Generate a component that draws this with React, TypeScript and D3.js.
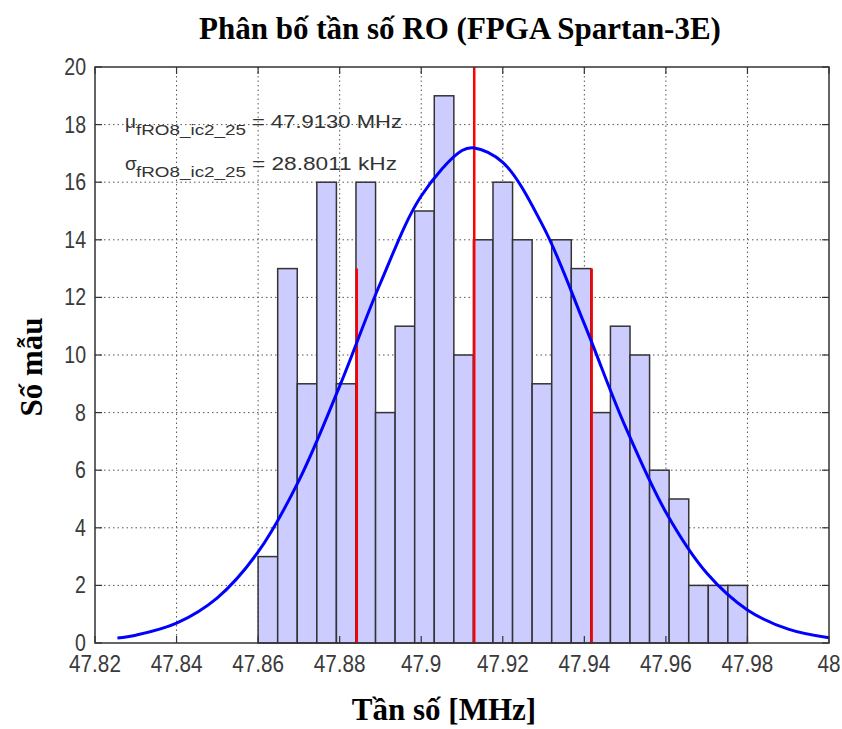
import React from "react";
import * as d3 from "d3";

// ---- data ----
const binStart = 47.86;
const binWidth = 0.0048;
const counts = [3, 13, 9, 16, 9, 16, 8, 11, 15, 19, 10, 14, 16, 14, 9, 14, 13, 8, 11, 10, 6, 5, 2, 2, 2];

const fitX = [47.8255, 47.83, 47.84, 47.85, 47.86, 47.87, 47.88, 47.89, 47.9, 47.91, 47.913, 47.92, 47.93, 47.94, 47.95, 47.96, 47.97, 47.98, 47.99, 48.0];
const fitY = [0.17, 0.27, 0.69, 1.57, 3.16, 5.64, 8.92, 12.5, 15.52, 17.1, 17.19, 16.69, 14.44, 11.08, 7.53, 4.54, 2.43, 1.15, 0.48, 0.18];

const mu = 47.913;
const sigmaMHz = 0.0288011;
const sigmaLineHeight = 13;

const xTicks = [47.82, 47.84, 47.86, 47.88, 47.9, 47.92, 47.94, 47.96, 47.98, 48];
const xTickLabels = ["47.82", "47.84", "47.86", "47.88", "47.9", "47.92", "47.94", "47.96", "47.98", "48"];
const yTicks = [0, 2, 4, 6, 8, 10, 12, 14, 16, 18, 20];

const title = "Phân bố tần số RO (FPGA Spartan-3E)";
const xLabel = "Tần số [MHz]";
const yLabel = "Số mẫu";
const muText = "= 47.9130 MHz";
const sigmaText = "= 28.8011 kHz";
const subText = "fRO8_ic2_25";

export default function App() {
  const W = 842, H = 729;
  const L = 95, R = 829, T = 67, B = 643;
  const x = d3.scaleLinear().domain([47.82, 48]).range([L, R]);
  const y = d3.scaleLinear().domain([0, 20]).range([B, T]);
  const line = d3
    .line<number>()
    .x((_, i) => x(fitX[i]))
    .y((d) => y(d))
    .curve(d3.curveCatmullRom);
  const sans = "'Liberation Sans', Arial, sans-serif";
  const serif = "'Liberation Serif', 'Times New Roman', serif";
  const tickColor = "#3a3a3a";
  return (
    <svg width={W} height={H} style={{ position: "absolute", left: 0, top: 0, background: "#fff" }}>
      <rect x={0} y={0} width={W} height={H} fill="#fff" />
      {/* grid */}
      {xTicks.slice(1, -1).map((t) => (
        <line key={"gx" + t} x1={x(t)} x2={x(t)} y1={T} y2={B} stroke="#555" strokeWidth={1} strokeDasharray="1.5,3" />
      ))}
      {yTicks.slice(1, -1).map((t) => (
        <line key={"gy" + t} x1={L} x2={R} y1={y(t)} y2={y(t)} stroke="#555" strokeWidth={1} strokeDasharray="1.5,3" />
      ))}
      {/* bars */}
      {counts.map((c, i) => {
        const x0 = x(binStart + i * binWidth);
        const x1 = x(binStart + (i + 1) * binWidth);
        return (
          <rect key={"b" + i} x={x0} y={y(c)} width={x1 - x0} height={y(0) - y(c)} fill="#ccccff" stroke="#333" strokeWidth={1.5} />
        );
      })}
      {/* red lines */}
      <line x1={x(mu)} x2={x(mu)} y1={y(0)} y2={y(20)} stroke="#ff0000" strokeWidth={2.5} />
      <line x1={x(mu - sigmaMHz)} x2={x(mu - sigmaMHz)} y1={y(0)} y2={y(sigmaLineHeight)} stroke="#ff0000" strokeWidth={2.5} />
      <line x1={x(mu + sigmaMHz)} x2={x(mu + sigmaMHz)} y1={y(0)} y2={y(sigmaLineHeight)} stroke="#ff0000" strokeWidth={2.5} />
      {/* fit curve */}
      <path d={line(fitY) || ""} fill="none" stroke="#0000ff" strokeWidth={3} />
      {/* frame */}
      <rect x={L} y={T} width={R - L} height={B - T} fill="none" stroke="#333" strokeWidth={1.5} />
      {/* ticks */}
      {xTicks.map((t) => (
        <g key={"tx" + t}>
          <line x1={x(t)} x2={x(t)} y1={B} y2={B - 7} stroke="#333" strokeWidth={1.2} />
          <line x1={x(t)} x2={x(t)} y1={T} y2={T + 7} stroke="#333" strokeWidth={1.2} />
        </g>
      ))}
      {yTicks.map((t) => (
        <g key={"ty" + t}>
          <line x1={L} x2={L + 7} y1={y(t)} y2={y(t)} stroke="#333" strokeWidth={1.2} />
          <line x1={R} x2={R - 7} y1={y(t)} y2={y(t)} stroke="#333" strokeWidth={1.2} />
        </g>
      ))}
      {/* tick labels */}
      {xTicks.map((t, i) => (
        <text key={"lx" + t} transform={`translate(${x(t)},${B + 29}) scale(0.9,1)`} textAnchor="middle" fontFamily={sans} fontSize={23} fill={tickColor}>
          {xTickLabels[i]}
        </text>
      ))}
      {yTicks.map((t) => (
        <text key={"ly" + t} transform={`translate(${L - 9},${y(t) + 8}) scale(0.85,1)`} textAnchor="end" fontFamily={sans} fontSize={23} fill={tickColor}>
          {t}
        </text>
      ))}
      {/* annotations */}
      <text x={125} y={128} fontFamily={sans} fontSize={19} fill="#333">μ</text>
      <text x={136} y={135} fontFamily={sans} fontSize={15} fill="#333" textLength={110} lengthAdjust="spacingAndGlyphs">{subText}</text>
      <text x={252} y={128} fontFamily={sans} fontSize={19} fill="#333" textLength={150} lengthAdjust="spacingAndGlyphs">{muText}</text>
      <text x={125} y={170} fontFamily={sans} fontSize={19} fill="#333">σ</text>
      <text x={136} y={177} fontFamily={sans} fontSize={15} fill="#333" textLength={110} lengthAdjust="spacingAndGlyphs">{subText}</text>
      <text x={252} y={170} fontFamily={sans} fontSize={19} fill="#333" textLength={145} lengthAdjust="spacingAndGlyphs">{sigmaText}</text>
      {/* titles */}
      <text x={460} y={39} textAnchor="middle" fontFamily={serif} fontWeight="bold" fontSize={31} fill="#000">
        {title}
      </text>
      <text x={444} y={720} textAnchor="middle" fontFamily={serif} fontWeight="bold" fontSize={31} fill="#000">
        {xLabel}
      </text>
      <text transform={`translate(42,367) rotate(-90)`} textAnchor="middle" fontFamily={serif} fontWeight="bold" fontSize={31} fill="#000">
        {yLabel}
      </text>
    </svg>
  );
}
